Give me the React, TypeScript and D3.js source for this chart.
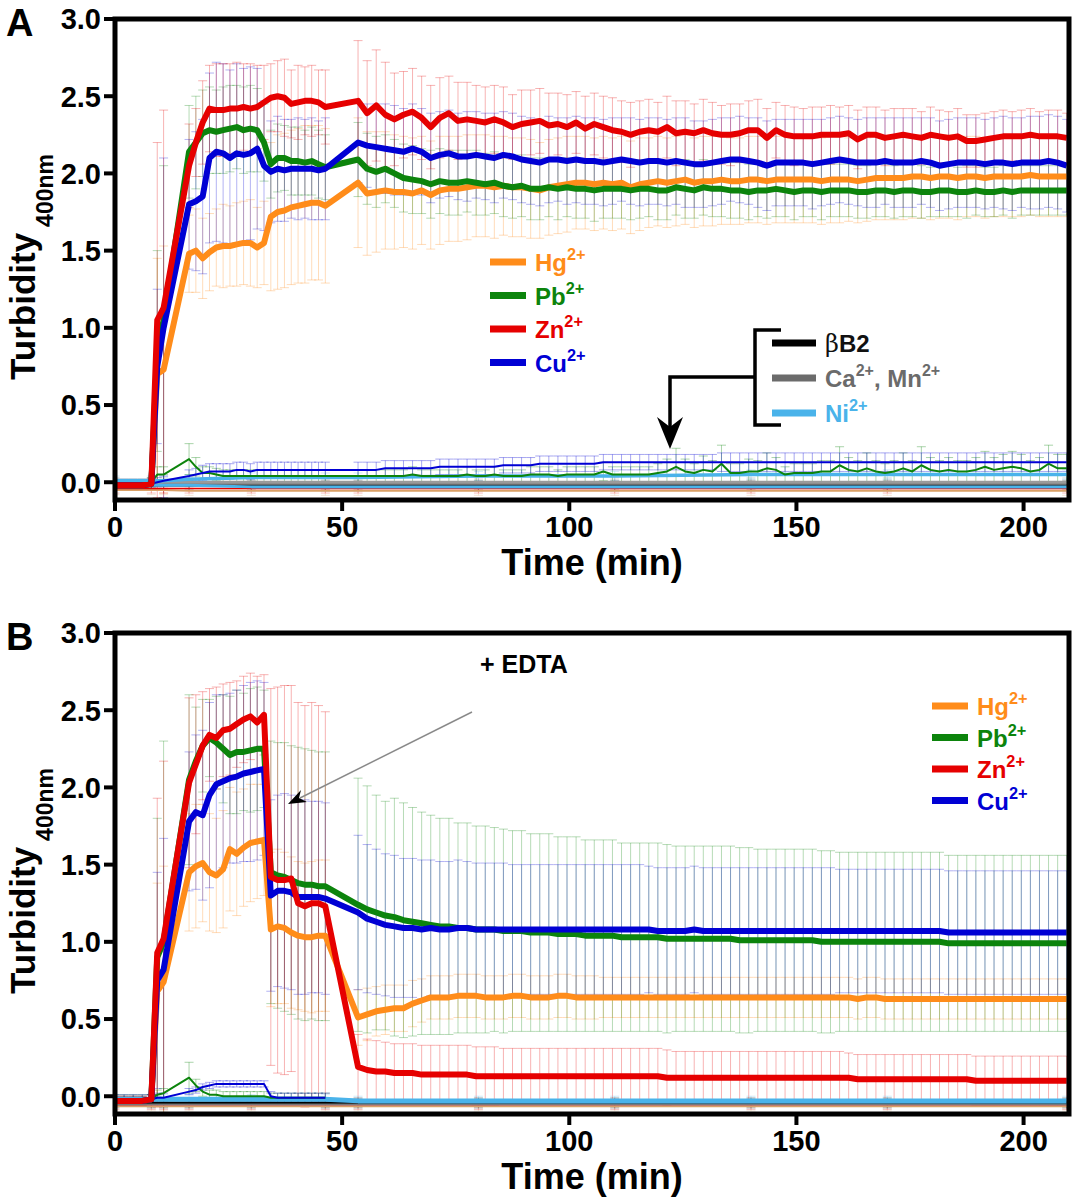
import React from "react";
import * as d3 from "d3";

// sampling grid (min): early points, rising phase, plateau after the gap
const TIME_EARLY = [0, 2, 4, 6, 8, 9.3, 10.7];
const TIME_RISE = [16.3, 17.8, 19.3, 20.8, 22.3, 23.8, 25.3, 26.8, 28.3, 29.8, 31.3, 32.8, 34.3, 35.8, 37.3, 38.8, 40.3, 41.8, 43.3, 44.8, 46.3];
const TIME_LATE = [
  53.5, 55.5, 57.5, 59.5, 61.5, 63.5, 65.5, 67.5, 69.5, 71.5,
  73.5, 75.5, 77.5, 79.5, 81.5, 83.5, 85.5, 87.5, 89.5, 91.5,
  93.5, 95.5, 97.5, 99.5, 101.5, 103.5, 105.5, 107.5, 109.5, 111.5,
  113.5, 115.5, 117.5, 119.5, 121.5, 123.5, 125.5, 127.5, 129.5, 131.5,
  133.5, 135.5, 137.5, 139.5, 141.5, 143.5, 145.5, 147.5, 149.5, 151.5,
  153.5, 155.5, 157.5, 159.5, 161.5, 163.5, 165.5, 167.5, 169.5, 171.5,
  173.5, 175.5, 177.5, 179.5, 181.5, 183.5, 185.5, 187.5, 189.5, 191.5,
  193.5, 195.5, 197.5, 199.5, 201.5, 203.5, 205.5, 207.5, 209.5,
];
const TIME = [...TIME_EARLY, ...TIME_RISE, ...TIME_LATE];
const TIME_SHORT = [...TIME_EARLY, ...TIME_RISE];
const CTRL_TIME = [0, 8, 10.7, 16.3, 30, 46.3, 53.5, 80, 110, 140, 170, 209.5];

// ---------- panel A ----------
const A_HG = [
  -0.02, -0.02, -0.02, -0.02, -0.01, 0.7, 0.73,
  1.48, 1.5, 1.45, 1.49, 1.52, 1.53, 1.53, 1.54, 1.55, 1.55,
  1.52, 1.55, 1.72, 1.75, 1.76, 1.78, 1.79, 1.8, 1.81, 1.81, 1.79,
  1.94, 1.87, 1.88, 1.89, 1.88, 1.88, 1.87, 1.89, 1.86, 1.89,
  1.9, 1.9, 1.91, 1.92, 1.92, 1.91, 1.92, 1.91, 1.91, 1.9,
  1.89, 1.91, 1.92, 1.93, 1.94, 1.94, 1.93, 1.94, 1.93, 1.94,
  1.91, 1.93, 1.94, 1.95, 1.94, 1.95, 1.96, 1.94, 1.95, 1.95,
  1.96, 1.95, 1.95, 1.96, 1.96, 1.95, 1.96, 1.96, 1.96, 1.96,
  1.96, 1.95, 1.96, 1.96, 1.96, 1.95, 1.96, 1.97, 1.97, 1.97,
  1.97, 1.98, 1.98, 1.97, 1.98, 1.98, 1.97, 1.98, 1.98, 1.97,
  1.98, 1.98, 1.98, 1.98, 1.99, 1.98, 1.98, 1.98, 1.98,
];
const A_HG_SD = [
  0.03, 0.03, 0.03, 0.03, 0.03, 0.75, 0.8,
  0.25, 0.27, 0.26, 0.25, 0.25, 0.27, 0.26, 0.27, 0.27, 0.28,
  0.26, 0.27, 0.48, 0.5, 0.5, 0.5, 0.5, 0.51, 0.5, 0.5, 0.5,
  0.42, 0.4, 0.39, 0.38, 0.37, 0.36, 0.36, 0.35, 0.35, 0.35,
  0.34, 0.34, 0.34, 0.33, 0.33, 0.33, 0.32, 0.32, 0.32, 0.32,
  0.31, 0.31, 0.31, 0.31, 0.3, 0.3, 0.3, 0.3, 0.3, 0.3,
  0.3, 0.3, 0.29, 0.29, 0.29, 0.29, 0.29, 0.29, 0.29, 0.29,
  0.29, 0.28, 0.28, 0.28, 0.28, 0.28, 0.28, 0.28, 0.28, 0.28,
  0.28, 0.28, 0.28, 0.28, 0.27, 0.27, 0.27, 0.27, 0.27, 0.27,
  0.27, 0.27, 0.27, 0.27, 0.27, 0.27, 0.27, 0.26, 0.26, 0.26,
  0.26, 0.26, 0.26, 0.26, 0.26, 0.26, 0.26, 0.26, 0.26,
];
const A_PB = [
  -0.02, -0.02, -0.02, -0.02, -0.01, 0.85, 1.05,
  2.14, 2.2, 2.26, 2.28, 2.27, 2.28, 2.29, 2.3, 2.28, 2.29,
  2.28, 2.2, 2.06, 2.1, 2.1, 2.08, 2.08, 2.07, 2.08, 2.06, 2.04,
  2.09, 2.03, 2.01, 2.03, 2.0, 1.97, 1.96, 1.95, 1.93, 1.95,
  1.94, 1.94, 1.95, 1.94, 1.93, 1.94, 1.92, 1.91, 1.92, 1.9,
  1.9, 1.91, 1.9, 1.91, 1.9, 1.9, 1.89, 1.9, 1.9, 1.9,
  1.89, 1.9, 1.9, 1.89, 1.89, 1.91, 1.9, 1.89, 1.91, 1.9,
  1.9, 1.89, 1.89, 1.88, 1.89, 1.89, 1.9, 1.89, 1.88, 1.89,
  1.89, 1.88, 1.89, 1.89, 1.89, 1.88, 1.88, 1.89, 1.89, 1.88,
  1.89, 1.89, 1.88, 1.88, 1.89, 1.89, 1.88, 1.88, 1.89, 1.88,
  1.88, 1.89, 1.88, 1.89, 1.89, 1.89, 1.89, 1.89, 1.89,
];
const A_PB_SD = [
  0.03, 0.03, 0.03, 0.03, 0.03, 0.65, 1.0,
  0.3, 0.3, 0.28, 0.28, 0.27, 0.28, 0.28, 0.27, 0.28, 0.28,
  0.27, 0.25, 0.22, 0.22, 0.21, 0.22, 0.22, 0.21, 0.22, 0.22, 0.21,
  0.24, 0.23, 0.23, 0.22, 0.22, 0.22, 0.22, 0.21, 0.22, 0.21,
  0.21, 0.21, 0.2, 0.21, 0.2, 0.2, 0.2, 0.2, 0.2, 0.2,
  0.2, 0.19, 0.2, 0.19, 0.19, 0.19, 0.2, 0.19, 0.19, 0.19,
  0.19, 0.19, 0.18, 0.19, 0.19, 0.18, 0.19, 0.18, 0.18, 0.18,
  0.18, 0.18, 0.18, 0.18, 0.17, 0.18, 0.18, 0.17, 0.18, 0.17,
  0.17, 0.18, 0.17, 0.17, 0.17, 0.17, 0.17, 0.17, 0.17, 0.17,
  0.17, 0.17, 0.17, 0.16, 0.17, 0.17, 0.16, 0.17, 0.16, 0.16,
  0.16, 0.16, 0.17, 0.16, 0.16, 0.16, 0.16, 0.16, 0.16,
];
const A_ZN = [
  -0.02, -0.02, -0.02, -0.02, -0.01, 1.05, 1.13,
  2.05, 2.2, 2.33, 2.42, 2.41, 2.41, 2.42, 2.42, 2.43, 2.42,
  2.43, 2.46, 2.49, 2.5, 2.49, 2.45, 2.46, 2.47, 2.47, 2.46, 2.43,
  2.47, 2.39, 2.44, 2.38, 2.35, 2.38, 2.4, 2.36, 2.3, 2.36,
  2.39, 2.34, 2.35, 2.34, 2.33, 2.35, 2.33, 2.3, 2.32, 2.33,
  2.34, 2.31, 2.32, 2.3, 2.33, 2.29, 2.32, 2.3, 2.28, 2.27,
  2.25, 2.27, 2.28, 2.27, 2.3, 2.26, 2.27, 2.26, 2.28, 2.26,
  2.25, 2.25, 2.26, 2.28, 2.28, 2.23, 2.28, 2.25, 2.24, 2.24,
  2.24, 2.25, 2.25, 2.25, 2.26, 2.22, 2.25, 2.25, 2.23, 2.24,
  2.25, 2.24, 2.23, 2.25, 2.24, 2.23, 2.24, 2.21, 2.21, 2.22,
  2.23, 2.24, 2.24, 2.24, 2.25, 2.24, 2.24, 2.24, 2.23,
];
const A_ZN_SD = [
  0.03, 0.03, 0.03, 0.03, 0.03, 1.15, 1.28,
  0.27, 0.22, 0.27, 0.28, 0.3, 0.3, 0.29, 0.3, 0.28, 0.29,
  0.27, 0.24, 0.22, 0.23, 0.25, 0.22, 0.24, 0.22, 0.23, 0.21, 0.24,
  0.39, 0.34, 0.36, 0.34, 0.3, 0.28, 0.28, 0.27, 0.27, 0.26,
  0.24, 0.25, 0.24, 0.23, 0.23, 0.22, 0.23, 0.21, 0.22, 0.21,
  0.21, 0.21, 0.2, 0.21, 0.2, 0.21, 0.2, 0.2, 0.21, 0.2,
  0.21, 0.2, 0.2, 0.19, 0.2, 0.21, 0.2, 0.19, 0.2, 0.2,
  0.19, 0.2, 0.19, 0.19, 0.2, 0.19, 0.18, 0.19, 0.19, 0.18,
  0.19, 0.18, 0.19, 0.18, 0.18, 0.19, 0.18, 0.18, 0.18, 0.18,
  0.17, 0.18, 0.17, 0.18, 0.17, 0.17, 0.18, 0.17, 0.17, 0.17,
  0.17, 0.17, 0.16, 0.17, 0.17, 0.16, 0.17, 0.17, 0.16,
];
const A_CU = [
  -0.02, -0.02, -0.02, -0.02, -0.01, 0.75, 1.0,
  1.8, 1.82, 1.85, 2.1, 2.14, 2.13, 2.1, 2.13, 2.12, 2.13,
  2.16, 2.05, 2.01, 2.03, 2.02, 2.03, 2.03, 2.03, 2.03, 2.02, 2.03,
  2.2, 2.18, 2.17, 2.16, 2.15, 2.14, 2.16, 2.14, 2.1, 2.12,
  2.13, 2.11, 2.11, 2.12, 2.11, 2.1, 2.12, 2.11, 2.09, 2.08,
  2.07, 2.09, 2.09, 2.08, 2.09, 2.08, 2.08, 2.07, 2.08, 2.09,
  2.08, 2.07, 2.08, 2.08, 2.07, 2.08, 2.07, 2.06, 2.06, 2.07,
  2.08, 2.09, 2.09, 2.08, 2.07, 2.05, 2.07, 2.07, 2.07, 2.07,
  2.06, 2.07, 2.08, 2.09, 2.08, 2.07, 2.07, 2.07, 2.08, 2.07,
  2.07, 2.07, 2.08, 2.07, 2.05, 2.06, 2.07, 2.07, 2.07, 2.06,
  2.07, 2.07, 2.06, 2.07, 2.07, 2.07, 2.08, 2.07, 2.05,
];
const A_CU_SD = [
  0.03, 0.03, 0.03, 0.03, 0.03, 0.5, 1.1,
  0.42, 0.45, 0.5, 0.55, 0.58, 0.58, 0.57, 0.58, 0.56, 0.56,
  0.52, 0.42, 0.33, 0.34, 0.33, 0.32, 0.33, 0.32, 0.33, 0.32, 0.33,
  0.26, 0.27, 0.28, 0.29, 0.29, 0.28, 0.29, 0.28, 0.29, 0.28,
  0.28, 0.28, 0.29, 0.28, 0.28, 0.29, 0.28, 0.28, 0.28, 0.28,
  0.28, 0.28, 0.27, 0.28, 0.28, 0.28, 0.28, 0.28, 0.28, 0.27,
  0.28, 0.28, 0.28, 0.28, 0.28, 0.28, 0.29, 0.28, 0.28, 0.28,
  0.28, 0.27, 0.28, 0.28, 0.29, 0.29, 0.28, 0.28, 0.28, 0.28,
  0.29, 0.28, 0.28, 0.28, 0.28, 0.28, 0.29, 0.29, 0.28, 0.29,
  0.29, 0.29, 0.28, 0.29, 0.29, 0.29, 0.29, 0.29, 0.29, 0.29,
  0.29, 0.3, 0.3, 0.29, 0.3, 0.3, 0.3, 0.3, 0.3,
];
// metal without protein (thin lines near zero)
const A_PB_CTRL = [
  -0.01, -0.01, -0.01, -0.01, 0, 0.05, 0.05,
  0.15, 0.1, 0.06, 0.06, 0.05, 0.04, 0.04, 0.04, 0.04, 0.04,
  0.04, 0.04, 0.04, 0.04, 0.04, 0.04, 0.04, 0.04, 0.04, 0.04, 0.04,
  0.04, 0.04, 0.04, 0.04, 0.04, 0.04, 0.05, 0.04, 0.04, 0.04,
  0.04, 0.04, 0.05, 0.04, 0.04, 0.05, 0.04, 0.04, 0.04, 0.05,
  0.05, 0.05, 0.04, 0.05, 0.05, 0.05, 0.05, 0.07, 0.05, 0.05,
  0.05, 0.05, 0.05, 0.06, 0.07, 0.1, 0.07, 0.06, 0.08, 0.07,
  0.12, 0.06, 0.06, 0.07, 0.07, 0.09, 0.08, 0.05, 0.06, 0.06,
  0.06, 0.07, 0.07, 0.11, 0.08, 0.07, 0.09, 0.07, 0.06, 0.07,
  0.09, 0.07, 0.11, 0.08, 0.07, 0.08, 0.07, 0.07, 0.08, 0.1,
  0.08, 0.09, 0.1, 0.09, 0.07, 0.08, 0.12, 0.09, 0.09,
];
const A_PB_CTRL_SD = [
  0.03, 0.03, 0.03, 0.03, 0.03, 0.05, 0.05,
  0.1, 0.06, 0.04, 0.04, 0.04, 0.04, 0.04, 0.04, 0.04, 0.04,
  0.04, 0.04, 0.04, 0.04, 0.04, 0.04, 0.04, 0.04, 0.04, 0.04, 0.04,
  0.04, 0.04, 0.04, 0.04, 0.04, 0.04, 0.05, 0.04, 0.04, 0.04,
  0.04, 0.04, 0.05, 0.04, 0.04, 0.05, 0.04, 0.04, 0.04, 0.05,
  0.05, 0.05, 0.04, 0.05, 0.05, 0.05, 0.05, 0.06, 0.05, 0.05,
  0.05, 0.05, 0.05, 0.06, 0.08, 0.12, 0.08, 0.06, 0.09, 0.07,
  0.12, 0.06, 0.06, 0.08, 0.07, 0.1, 0.08, 0.05, 0.06, 0.06,
  0.06, 0.07, 0.07, 0.12, 0.08, 0.07, 0.1, 0.07, 0.06, 0.07,
  0.1, 0.07, 0.12, 0.08, 0.07, 0.08, 0.07, 0.07, 0.08, 0.1,
  0.08, 0.09, 0.1, 0.09, 0.07, 0.08, 0.12, 0.09, 0.09,
];
const A_CU_CTRL = [
  -0.01, -0.01, -0.01, -0.01, -0.01, 0, 0.01,
  0.04, 0.05, 0.06, 0.07, 0.07, 0.07, 0.07, 0.08, 0.08, 0.07,
  0.08, 0.08, 0.08, 0.08, 0.08, 0.08, 0.08, 0.08, 0.08, 0.08, 0.08,
  0.08, 0.08, 0.08, 0.09, 0.09, 0.09, 0.09, 0.09, 0.09, 0.1,
  0.1, 0.1, 0.1, 0.1, 0.1, 0.1, 0.11, 0.11, 0.11, 0.11,
  0.12, 0.12, 0.12, 0.12, 0.12, 0.12, 0.12, 0.13, 0.13, 0.13,
  0.13, 0.13, 0.13, 0.13, 0.13, 0.13, 0.13, 0.13, 0.13, 0.13,
  0.13, 0.13, 0.13, 0.13, 0.13, 0.13, 0.13, 0.13, 0.13, 0.13,
  0.13, 0.13, 0.13, 0.13, 0.13, 0.13, 0.13, 0.13, 0.13, 0.13,
  0.13, 0.13, 0.13, 0.13, 0.13, 0.13, 0.13, 0.13, 0.13, 0.13,
  0.13, 0.13, 0.13, 0.13, 0.13, 0.13, 0.13, 0.13, 0.13,
];
const A_CU_CTRL_SD = [
  0.03, 0.03, 0.03, 0.03, 0.03, 0.03, 0.03,
  0.04, 0.04, 0.05, 0.05, 0.05, 0.05, 0.05, 0.05, 0.05, 0.05,
  0.05, 0.05, 0.05, 0.05, 0.05, 0.05, 0.05, 0.05, 0.05, 0.05, 0.05,
  0.05, 0.05, 0.05, 0.05, 0.05, 0.05, 0.05, 0.05, 0.05, 0.05,
  0.05, 0.05, 0.05, 0.05, 0.05, 0.05, 0.05, 0.05, 0.05, 0.05,
  0.05, 0.05, 0.05, 0.05, 0.05, 0.05, 0.05, 0.05, 0.05, 0.05,
  0.05, 0.05, 0.05, 0.05, 0.05, 0.05, 0.05, 0.05, 0.05, 0.05,
  0.06, 0.06, 0.06, 0.06, 0.06, 0.06, 0.06, 0.06, 0.06, 0.06,
  0.06, 0.06, 0.06, 0.06, 0.06, 0.06, 0.06, 0.06, 0.06, 0.06,
  0.06, 0.06, 0.06, 0.06, 0.06, 0.06, 0.06, 0.06, 0.06, 0.06,
  0.06, 0.06, 0.06, 0.06, 0.06, 0.06, 0.06, 0.06, 0.06,
];
// controls on the coarse grid
const A_BB2 = [-0.02, -0.02, -0.02, -0.02, -0.02, -0.02, -0.02, -0.02, -0.02, -0.02, -0.02, -0.02];
const A_CA = [0, 0, -0.01, -0.01, -0.01, -0.01, -0.01, -0.01, -0.01, -0.01, -0.01, -0.01];
const A_MN = [-0.01, -0.01, 0, 0, 0, 0, 0, 0, 0, 0, 0, 0];
const A_NI = [0.01, 0.01, 0.01, 0.02, 0.03, 0.03, 0.03, 0.04, 0.04, 0.05, 0.05, 0.05];
const A_NI_LOW = [-0.02, -0.02, -0.02, -0.02, -0.03, -0.03, -0.03, -0.03, -0.03, -0.03, -0.03, -0.03];
const A_ZN_CTRL = [-0.04, -0.04, -0.04, -0.04, -0.04, -0.04, -0.04, -0.04, -0.04, -0.04, -0.04, -0.04];
const A_HG_CTRL = [-0.05, -0.05, -0.05, -0.055, -0.055, -0.055, -0.055, -0.055, -0.055, -0.055, -0.055, -0.055];
const A_GREY_SD = [0.03, 0.03, 0.03, 0.03, 0.03, 0.03, 0.03, 0.03, 0.03, 0.03, 0.03, 0.03];

// ---------- panel B (EDTA added at ~33 min) ----------
const B_HG = [
  -0.03, -0.03, -0.03, -0.03, -0.02, 0.68, 0.74,
  1.45, 1.49, 1.51, 1.45, 1.43, 1.47, 1.6, 1.57, 1.61, 1.64,
  1.65, 1.66, 1.08, 1.1, 1.09, 1.06, 1.04, 1.03, 1.03, 1.04, 1.04,
  0.51, 0.53, 0.55, 0.56, 0.57, 0.57, 0.6, 0.62, 0.64, 0.64,
  0.64, 0.65, 0.65, 0.65, 0.64, 0.64, 0.64, 0.65, 0.65, 0.64,
  0.64, 0.64, 0.65, 0.65, 0.64, 0.64, 0.64, 0.64, 0.64, 0.64,
  0.64, 0.64, 0.64, 0.64, 0.64, 0.64, 0.64, 0.64, 0.64, 0.64,
  0.64, 0.64, 0.64, 0.64, 0.64, 0.64, 0.64, 0.64, 0.64, 0.64,
  0.64, 0.64, 0.64, 0.64, 0.64, 0.63, 0.64, 0.64, 0.63, 0.63,
  0.63, 0.63, 0.63, 0.63, 0.63, 0.63, 0.63, 0.63, 0.63, 0.63,
  0.63, 0.63, 0.63, 0.63, 0.63, 0.63, 0.63, 0.63, 0.63,
];
const B_HG_SD = [
  0.03, 0.03, 0.03, 0.03, 0.03, 0.7, 0.75,
  0.38, 0.4, 0.38, 0.38, 0.37, 0.38, 0.4, 0.4, 0.38, 0.38,
  0.37, 0.36, 0.5, 0.5, 0.49, 0.49, 0.48, 0.48, 0.49, 0.49, 0.49,
  0.18, 0.17, 0.16, 0.16, 0.15, 0.15, 0.15, 0.14, 0.14, 0.14,
  0.14, 0.14, 0.14, 0.14, 0.14, 0.14, 0.14, 0.14, 0.14, 0.14,
  0.14, 0.14, 0.14, 0.14, 0.14, 0.14, 0.14, 0.13, 0.13, 0.13,
  0.13, 0.13, 0.13, 0.13, 0.13, 0.13, 0.13, 0.13, 0.13, 0.13,
  0.13, 0.13, 0.13, 0.13, 0.13, 0.13, 0.13, 0.13, 0.13, 0.13,
  0.13, 0.13, 0.13, 0.13, 0.13, 0.13, 0.13, 0.13, 0.13, 0.13,
  0.13, 0.13, 0.13, 0.13, 0.13, 0.13, 0.13, 0.13, 0.13, 0.13,
  0.13, 0.13, 0.13, 0.13, 0.13, 0.13, 0.13, 0.13, 0.13,
];
const B_PB = [
  -0.03, -0.03, -0.03, -0.03, -0.02, 0.9, 1.0,
  2.05, 2.17, 2.27, 2.32, 2.29, 2.25, 2.21, 2.23, 2.23, 2.24,
  2.25, 2.25, 1.45, 1.43, 1.42, 1.4, 1.38, 1.37, 1.37, 1.36, 1.36,
  1.24, 1.21, 1.19, 1.17, 1.16, 1.14, 1.13, 1.12, 1.11, 1.1,
  1.1, 1.09, 1.09, 1.08, 1.08, 1.08, 1.07, 1.07, 1.07, 1.06,
  1.06, 1.06, 1.05, 1.05, 1.05, 1.04, 1.04, 1.04, 1.04, 1.03,
  1.03, 1.03, 1.03, 1.03, 1.02, 1.02, 1.02, 1.02, 1.02, 1.02,
  1.02, 1.02, 1.01, 1.01, 1.01, 1.01, 1.01, 1.01, 1.01, 1.01,
  1.01, 1.0, 1.0, 1.0, 1.0, 1.0, 1.0, 1.0, 1.0, 1.0,
  1.0, 1.0, 1.0, 1.0, 1.0, 0.99, 0.99, 0.99, 0.99, 0.99,
  0.99, 0.99, 0.99, 0.99, 0.99, 0.99, 0.99, 0.99, 0.99,
];
const B_PB_SD = [
  0.03, 0.03, 0.03, 0.03, 0.03, 0.9, 1.3,
  0.55, 0.35, 0.3, 0.25, 0.3, 0.35, 0.38, 0.4, 0.38, 0.4,
  0.4, 0.38, 0.85, 0.86, 0.87, 0.87, 0.88, 0.88, 0.87, 0.87, 0.87,
  0.82, 0.8, 0.76, 0.74, 0.77, 0.76, 0.74, 0.72, 0.71, 0.7,
  0.7, 0.68, 0.68, 0.67, 0.67, 0.66, 0.66, 0.65, 0.65, 0.64,
  0.64, 0.64, 0.63, 0.63, 0.63, 0.62, 0.62, 0.62, 0.62, 0.61,
  0.61, 0.61, 0.61, 0.61, 0.61, 0.6, 0.6, 0.6, 0.6, 0.6,
  0.6, 0.6, 0.6, 0.6, 0.59, 0.59, 0.59, 0.59, 0.59, 0.59,
  0.59, 0.59, 0.59, 0.58, 0.58, 0.58, 0.58, 0.58, 0.58, 0.58,
  0.58, 0.58, 0.58, 0.58, 0.58, 0.57, 0.57, 0.57, 0.57, 0.57,
  0.57, 0.57, 0.57, 0.57, 0.57, 0.57, 0.57, 0.57, 0.57,
];
const B_ZN = [
  -0.03, -0.03, -0.03, -0.03, -0.02, 0.93, 1.02,
  2.03, 2.15, 2.27, 2.34, 2.32, 2.37, 2.38, 2.41, 2.44, 2.46,
  2.42, 2.47, 1.42, 1.4, 1.4, 1.41, 1.25, 1.23, 1.25, 1.25, 1.23,
  0.19, 0.17, 0.16, 0.16, 0.15, 0.15, 0.15, 0.14, 0.14, 0.14,
  0.14, 0.14, 0.14, 0.13, 0.13, 0.13, 0.13, 0.13, 0.13, 0.13,
  0.13, 0.13, 0.13, 0.13, 0.13, 0.13, 0.13, 0.13, 0.13, 0.13,
  0.13, 0.13, 0.13, 0.13, 0.12, 0.12, 0.12, 0.12, 0.12, 0.12,
  0.12, 0.12, 0.12, 0.12, 0.12, 0.12, 0.12, 0.12, 0.12, 0.12,
  0.12, 0.12, 0.12, 0.12, 0.12, 0.11, 0.11, 0.11, 0.11, 0.11,
  0.11, 0.11, 0.11, 0.11, 0.11, 0.11, 0.11, 0.11, 0.1, 0.1,
  0.1, 0.1, 0.1, 0.1, 0.1, 0.1, 0.1, 0.1, 0.1,
];
const B_ZN_SD = [
  0.03, 0.03, 0.03, 0.03, 0.03, 1.0, 1.15,
  0.55, 0.45, 0.35, 0.3, 0.33, 0.3, 0.3, 0.28, 0.28, 0.28,
  0.3, 0.26, 1.22, 1.25, 1.26, 1.25, 1.3, 1.3, 1.3, 1.28, 1.26,
  0.21, 0.2, 0.2, 0.19, 0.19, 0.19, 0.19, 0.19, 0.19, 0.19,
  0.19, 0.19, 0.19, 0.19, 0.19, 0.19, 0.18, 0.18, 0.18, 0.18,
  0.18, 0.18, 0.18, 0.18, 0.18, 0.18, 0.18, 0.18, 0.18, 0.18,
  0.18, 0.18, 0.18, 0.18, 0.18, 0.17, 0.17, 0.17, 0.17, 0.17,
  0.17, 0.17, 0.17, 0.17, 0.17, 0.17, 0.17, 0.17, 0.17, 0.17,
  0.17, 0.17, 0.17, 0.17, 0.16, 0.16, 0.16, 0.16, 0.16, 0.16,
  0.16, 0.16, 0.16, 0.16, 0.16, 0.16, 0.16, 0.16, 0.16, 0.16,
  0.16, 0.16, 0.16, 0.16, 0.16, 0.16, 0.16, 0.16, 0.16,
];
const B_CU = [
  -0.03, -0.03, -0.03, -0.03, -0.02, 0.75, 0.82,
  1.78, 1.84, 1.82, 1.95, 2.02, 2.04, 2.06, 2.07, 2.09, 2.1,
  2.11, 2.12, 1.3, 1.33, 1.33, 1.32, 1.29, 1.29, 1.29, 1.29, 1.28,
  1.19, 1.15, 1.13, 1.11, 1.1, 1.09, 1.09, 1.08, 1.09, 1.08,
  1.08, 1.09, 1.09, 1.08, 1.08, 1.08, 1.08, 1.08, 1.08, 1.08,
  1.08, 1.08, 1.08, 1.08, 1.08, 1.08, 1.08, 1.08, 1.08, 1.08,
  1.08, 1.08, 1.08, 1.07, 1.07, 1.07, 1.07, 1.08, 1.07, 1.07,
  1.07, 1.07, 1.07, 1.07, 1.07, 1.07, 1.07, 1.07, 1.07, 1.07,
  1.07, 1.07, 1.07, 1.07, 1.07, 1.07, 1.07, 1.07, 1.07, 1.07,
  1.07, 1.07, 1.07, 1.07, 1.07, 1.06, 1.06, 1.06, 1.06, 1.06,
  1.06, 1.06, 1.06, 1.06, 1.06, 1.06, 1.06, 1.06, 1.06,
];
const B_CU_SD = [
  0.03, 0.03, 0.03, 0.03, 0.03, 0.7, 0.85,
  0.45, 0.5, 0.55, 0.6, 0.58, 0.56, 0.55, 0.56, 0.57, 0.58,
  0.58, 0.56, 0.62, 0.62, 0.63, 0.63, 0.63, 0.63, 0.62, 0.62, 0.62,
  0.5, 0.48, 0.47, 0.46, 0.46, 0.45, 0.45, 0.45, 0.44, 0.44,
  0.44, 0.44, 0.43, 0.43, 0.43, 0.43, 0.43, 0.42, 0.42, 0.42,
  0.42, 0.42, 0.42, 0.42, 0.42, 0.42, 0.42, 0.42, 0.42, 0.42,
  0.42, 0.42, 0.41, 0.41, 0.41, 0.41, 0.41, 0.41, 0.41, 0.41,
  0.41, 0.41, 0.41, 0.41, 0.41, 0.41, 0.41, 0.41, 0.41, 0.41,
  0.41, 0.41, 0.41, 0.4, 0.4, 0.4, 0.4, 0.4, 0.4, 0.4,
  0.4, 0.4, 0.4, 0.4, 0.4, 0.4, 0.4, 0.4, 0.4, 0.4,
  0.4, 0.4, 0.4, 0.4, 0.4, 0.4, 0.4, 0.4, 0.4,
];
// thin lines near zero, only up to the gap
const B_PB_CTRL = [
  -0.02, -0.02, -0.02, -0.02, -0.02, 0.01, 0.02,
  0.12, 0.07, 0.03, 0.01, 0.01, 0, 0, 0, 0, 0,
  0, 0, -0.01, -0.01, -0.01, -0.01, -0.01, -0.01, -0.01, -0.01, -0.01,
];
const B_PB_CTRL_SD = [
  0.03, 0.03, 0.03, 0.03, 0.03, 0.03, 0.03,
  0.1, 0.04, 0.03, 0.03, 0.03, 0.03, 0.03, 0.03, 0.03, 0.03,
  0.03, 0.03, 0.03, 0.03, 0.03, 0.03, 0.03, 0.03, 0.03, 0.03, 0.03,
];
const B_CU_CTRL = [
  -0.02, -0.02, -0.02, -0.02, -0.02, -0.01, -0.01,
  0.03, 0.04, 0.06, 0.07, 0.08, 0.08, 0.08, 0.08, 0.08, 0.08,
  0.08, 0.08, 0, -0.01, -0.01, -0.01, -0.01, -0.01, -0.01, -0.01, -0.01,
];
const B_CU_CTRL_SD = [
  0.03, 0.03, 0.03, 0.03, 0.03, 0.03, 0.03,
  0.02, 0.02, 0.02, 0.02, 0.02, 0.02, 0.02, 0.02, 0.02, 0.02,
  0.02, 0.02, 0.03, 0.03, 0.03, 0.03, 0.03, 0.03, 0.03, 0.03, 0.03,
];
const B_BB2 = [-0.04, -0.04, -0.04, -0.04, -0.04, -0.04, -0.04, -0.04, -0.04, -0.04, -0.04, -0.04];
const B_CA = [-0.045, -0.045, -0.045, -0.045, -0.045, -0.045, -0.045, -0.045, -0.045, -0.045, -0.045, -0.045];
const B_MN = [-0.05, -0.05, -0.05, -0.05, -0.05, -0.05, -0.05, -0.05, -0.05, -0.05, -0.05, -0.05];
const B_NI = [-0.02, -0.02, -0.02, -0.02, -0.02, -0.02, -0.03, -0.03, -0.03, -0.03, -0.03, -0.03];
const B_ZN_CTRL = [-0.055, -0.055, -0.055, -0.055, -0.055, -0.055, -0.055, -0.055, -0.055, -0.055, -0.055, -0.055];
const B_HG_CTRL = [-0.065, -0.065, -0.065, -0.065, -0.065, -0.065, -0.065, -0.065, -0.065, -0.065, -0.065, -0.065];

const Y_TICKS = [0, 0.5, 1.0, 1.5, 2.0, 2.5, 3.0];
const X_TICKS = [0, 50, 100, 150, 200];

const C = {
  hg: "#ff8c1a",
  pb: "#0c840c",
  zn: "#e60000",
  cu: "#0000d4",
  ni: "#4ab3ea",
  grey: "#6b6b6b",
  black: "#000000",
};

const FONT = "'Liberation Sans', Arial, Helvetica, sans-serif";
const LEFT = 115;
const RIGHT = 1069;
const PLOT_H = 481;

const x = d3.scaleLinear().domain([0, 210]).range([LEFT, RIGHT]);

const ErrorBars = ({ time, values, sd, color, y, opacity = 0.3 }) => (
  <g stroke={color} strokeOpacity={opacity} strokeWidth={1} fill="none">
    {values.map((v, i) => {
      const xi = x(time[i]);
      const lo = y(v - sd[i]);
      const hi = y(v + sd[i]);
      return <path key={i} d={`M${xi},${lo}V${hi}M${xi - 4.5},${lo}h9M${xi - 4.5},${hi}h9`} />;
    })}
  </g>
);

const Line = ({ time, values, color, width, y }) => {
  const line = d3
    .line<number>()
    .x((_, i) => x(time[i]))
    .y((v) => y(v));
  return <path d={line(values) || ""} fill="none" stroke={color} strokeWidth={width} strokeLinejoin="round" strokeLinecap="butt" />;
};

const Ion = ({ x: tx, y: ty, base, color, size = 24 }) => (
  <text x={tx} y={ty} fill={color} fontSize={size} fontWeight="bold" fontFamily={FONT}>
    {base}
    <tspan dy={-11} fontSize={size * 0.68}>2+</tspan>
  </text>
);

const MetalLegend = ({ lx, ly, step }) => {
  const items = [
    { base: "Hg", color: C.hg },
    { base: "Pb", color: C.pb },
    { base: "Zn", color: C.zn },
    { base: "Cu", color: C.cu },
  ];
  return (
    <g>
      {items.map((d, i) => (
        <g key={d.base}>
          <line x1={lx} x2={lx + 36} y1={ly + i * step} y2={ly + i * step} stroke={d.color} strokeWidth={7} />
          <Ion x={lx + 45} y={ly + i * step + 9} base={d.base} color={d.color} />
        </g>
      ))}
    </g>
  );
};

const Panel = ({ top, label, main, thin, flat, children }) => {
  const y = d3.scaleLinear().domain([-0.115, 3]).range([top + PLOT_H, top]);
  const bottom = top + PLOT_H;
  const clipId = `clip-${label}`;
  const cy = top + 248;
  return (
    <g>
      <defs>
        <clipPath id={clipId}>
          <rect x={LEFT} y={top} width={RIGHT - LEFT} height={PLOT_H} />
        </clipPath>
      </defs>
      <g clipPath={`url(#${clipId})`}>
        {main.map((s) => (
          <ErrorBars key={s.key} time={TIME} values={s.values} sd={s.sd} color={s.color} y={y} />
        ))}
        {flat.map((s) => (
          <ErrorBars key={s.key} time={CTRL_TIME} values={s.values} sd={A_GREY_SD} color={s.color} y={y} opacity={0.25} />
        ))}
        {thin.map((s) => (
          <ErrorBars key={s.key} time={s.time} values={s.values} sd={s.sd} color={s.color} y={y} opacity={0.35} />
        ))}
        {flat.map((s) => (
          <Line key={s.key} time={CTRL_TIME} values={s.values} color={s.color} width={s.width} y={y} />
        ))}
        {thin.map((s) => (
          <Line key={s.key} time={s.time} values={s.values} color={s.color} width={2} y={y} />
        ))}
        {main.map((s) => (
          <Line key={s.key} time={TIME} values={s.values} color={s.color} width={6} y={y} />
        ))}
      </g>

      {/* frame */}
      <rect x={LEFT} y={top} width={RIGHT - LEFT} height={PLOT_H} fill="none" stroke="#000" strokeWidth={5} />

      {/* y axis */}
      {Y_TICKS.map((t) => (
        <g key={t}>
          <line x1={LEFT - 11} x2={LEFT} y1={y(t)} y2={y(t)} stroke="#000" strokeWidth={4} />
          <text x={LEFT - 14} y={y(t)} dy="0.36em" textAnchor="end" fontSize={29} fontWeight="bold" fontFamily={FONT}>
            {d3.format(".1f")(t)}
          </text>
        </g>
      ))}
      {/* x axis */}
      {X_TICKS.map((t) => (
        <g key={t}>
          <line x1={x(t)} x2={x(t)} y1={bottom} y2={bottom + 11} stroke="#000" strokeWidth={4} />
          <text x={x(t)} y={bottom + 37} textAnchor="middle" fontSize={29} fontWeight="bold" fontFamily={FONT}>
            {t}
          </text>
        </g>
      ))}
      <text x={(LEFT + RIGHT) / 2} y={bottom + 75} textAnchor="middle" fontSize={36} fontWeight="bold" fontFamily={FONT}>
        Time (min)
      </text>
      <text transform={`translate(35,${cy}) rotate(-90)`} textAnchor="middle" fontSize={35} fontWeight="bold" fontFamily={FONT}>
        Turbidity
        <tspan dx={6} dy={18} fontSize={23}>400nm</tspan>
      </text>
      <text x={6} y={top + 17} fontSize={38} fontWeight="bold" fontFamily={FONT}>
        {label}
      </text>
      {children}
    </g>
  );
};

export default function App() {
  const mainA = [
    { key: "hg", values: A_HG, sd: A_HG_SD, color: C.hg },
    { key: "pb", values: A_PB, sd: A_PB_SD, color: C.pb },
    { key: "cu", values: A_CU, sd: A_CU_SD, color: C.cu },
    { key: "zn", values: A_ZN, sd: A_ZN_SD, color: C.zn },
  ];
  const thinA = [
    { key: "pbc", time: TIME, values: A_PB_CTRL, sd: A_PB_CTRL_SD, color: C.pb },
    { key: "cuc", time: TIME, values: A_CU_CTRL, sd: A_CU_CTRL_SD, color: C.cu },
  ];
  const flatA = [
    { key: "hgc", values: A_HG_CTRL, color: "#d9a066", width: 2 },
    { key: "znc", values: A_ZN_CTRL, color: C.zn, width: 1.5 },
    { key: "bb2", values: A_BB2, color: C.black, width: 2.5 },
    { key: "ca", values: A_CA, color: C.grey, width: 3 },
    { key: "mn", values: A_MN, color: "#9a9a9a", width: 3 },
    { key: "nil", values: A_NI_LOW, color: C.ni, width: 3 },
    { key: "ni", values: A_NI, color: C.ni, width: 3.5 },
  ];
  const mainB = [
    { key: "hg", values: B_HG, sd: B_HG_SD, color: C.hg },
    { key: "pb", values: B_PB, sd: B_PB_SD, color: C.pb },
    { key: "cu", values: B_CU, sd: B_CU_SD, color: C.cu },
    { key: "zn", values: B_ZN, sd: B_ZN_SD, color: C.zn },
  ];
  const thinB = [
    { key: "pbc", time: TIME_SHORT, values: B_PB_CTRL, sd: B_PB_CTRL_SD, color: C.pb },
    { key: "cuc", time: TIME_SHORT, values: B_CU_CTRL, sd: B_CU_CTRL_SD, color: C.cu },
  ];
  const flatB = [
    { key: "hgc", values: B_HG_CTRL, color: "#d9a066", width: 2 },
    { key: "znc", values: B_ZN_CTRL, color: C.zn, width: 1.5 },
    { key: "mn", values: B_MN, color: "#9a9a9a", width: 3 },
    { key: "ca", values: B_CA, color: C.grey, width: 3 },
    { key: "bb2", values: B_BB2, color: C.black, width: 2 },
    { key: "ni", values: B_NI, color: C.ni, width: 5 },
  ];

  return (
    <svg width={1075} height={1200} style={{ position: "absolute", left: 0, top: 0, background: "#fff" }}>
      <Panel top={19} label="A" main={mainA} thin={thinA} flat={flatA}>
        <MetalLegend lx={490} ly={262} step={33.5} />
        {/* control legend with bracket and arrow */}
        <path d="M781,330H755V425H781" fill="none" stroke="#000" strokeWidth={3.5} />
        <path d="M755,377H670V428" fill="none" stroke="#000" strokeWidth={3.5} />
        <path d="M670,449L657,417L670,427L683,417Z" fill="#000" />
        <line x1={772} x2={816} y1={343} y2={343} stroke={C.black} strokeWidth={7} />
        <line x1={772} x2={816} y1={378} y2={378} stroke={C.grey} strokeWidth={7} />
        <line x1={772} x2={816} y1={413} y2={413} stroke={C.ni} strokeWidth={7} />
        <text x={825} y={352} fontSize={24} fontWeight="bold" fontFamily={FONT} fill="#111">
          <tspan fontFamily="'DejaVu Serif', serif" fontWeight="normal">β</tspan>B2
        </text>
        <text x={825} y={387} fontSize={24} fontWeight="bold" fontFamily={FONT} fill={C.grey}>
          Ca<tspan dy={-11} fontSize={16}>2+</tspan>
          <tspan dy={11}>, Mn</tspan>
          <tspan dy={-11} fontSize={16}>2+</tspan>
        </text>
        <Ion x={825} y={422} base="Ni" color={C.ni} />
      </Panel>
      <Panel top={633} label="B" main={mainB} thin={thinB} flat={flatB}>
        <MetalLegend lx={932} ly={706} step={31.5} />
        <text x={480} y={673} fontSize={25} fontWeight="bold" fontFamily={FONT}>
          + EDTA
        </text>
        <line x1={472} y1={712} x2={300} y2={798} stroke="#8a8a8a" strokeWidth={1.5} />
        <path d="M288,804L307,802L299,798L301,790Z" fill="#000" />
      </Panel>
    </svg>
  );
}
